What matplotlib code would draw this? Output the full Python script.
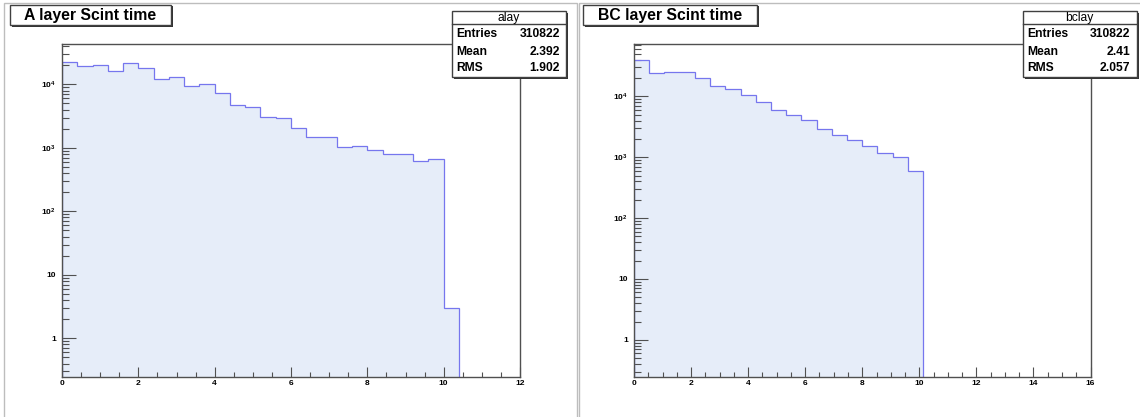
import numpy as np
import matplotlib
matplotlib.use('Agg')
import matplotlib.pyplot as plt
from matplotlib.patches import Rectangle
from matplotlib.lines import Line2D
from matplotlib.ticker import LogLocator, MultipleLocator, FuncFormatter, NullFormatter

# ---------------- data ----------------
alay_counts = [22800, 19200, 20200, 16400, 22000, 18300, 12300, 13000, 9500, 10000,
               7400, 4770, 4330, 3050, 2940, 2050, 1470, 1470, 1040, 1075,
               930, 795, 805, 623, 662, 3]
alay_nbins, alay_xmin, alay_xmax = 30, 0.0, 12.0

bclay_counts = [39200, 23900, 25200, 25200, 19800, 15000, 13200, 10650, 7960, 5950,
                4860, 4020, 2860, 2360, 1950, 1540, 1190, 1000, 603]
bclay_nbins, bclay_xmin, bclay_xmax = 30, 0.0, 16.0

titles = ["A layer Scint time", "BC layer Scint time"]
hist_names = ["alay", "bclay"]
stat_labels = ["Entries", "Mean", "RMS"]
alay_stats = ["310822", "2.392", "1.902"]
bclay_stats = ["310822", "2.41", "2.057"]

# ---------------- style ----------------
W, H, DPI = 1140, 417, 100
FONT = 'Liberation Sans'
plt.rcParams['font.family'] = [FONT, 'DejaVu Sans']
FRAME = '#505050'
FILL = '#e6edf9'
LINE = '#7676ee'

fig = plt.figure(figsize=(W / DPI, H / DPI), dpi=DPI)
fig.patch.set_facecolor('white')


def fx(x):
    return x / W


def fy(y):
    return 1 - y / H


def rect(x0, y0, x1, y1, **kw):
    r = Rectangle((fx(x0), fy(y1)), fx(x1) - fx(x0), fy(y0) - fy(y1),
                  transform=fig.transFigure, **kw)
    fig.add_artist(r)
    return r


def hline(x0, x1, y, **kw):
    fig.add_artist(Line2D([fx(x0), fx(x1)], [fy(y), fy(y)], transform=fig.transFigure, **kw))


# pad borders
rect(4, 3, 576.5, 420, facecolor='none', edgecolor='#bdbdbd', linewidth=1.0, zorder=0)
rect(578.5, 3, 1142, 420, facecolor='none', edgecolor='#bdbdbd', linewidth=1.0, zorder=0)


def ylab(v, pos):
    if v <= 0:
        return ''
    e = int(round(np.log10(v)))
    if abs(np.log10(v) - e) > 1e-6:
        return ''
    if e == 0:
        return '1'
    if e == 1:
        return '10'
    if e < 0:
        return ''
    return r'$\mathregular{10^{%d}}$' % e


def draw_hist(rect_px, counts, nbins, xmin, xmax, ylim, xlim):
    x0, y0, x1, y1 = rect_px
    ax = fig.add_axes([fx(x0), fy(y1), fx(x1) - fx(x0), fy(y0) - fy(y1)])
    edges = np.linspace(xmin, xmax, nbins + 1)[:len(counts) + 1]
    ax.stairs(counts, edges, baseline=1e-3, fill=True, facecolor=FILL,
              edgecolor='none', zorder=1)
    ax.stairs(counts, edges, baseline=1e-3, fill=False, color=LINE,
              linewidth=0.9, zorder=2)
    ax.set_yscale('log')
    ax.set_xlim(*xlim)
    ax.set_ylim(*ylim)
    for s in ax.spines.values():
        s.set_color(FRAME)
        s.set_linewidth(1.0)
    ax.xaxis.set_major_locator(MultipleLocator(2))
    ax.xaxis.set_minor_locator(MultipleLocator(0.5))
    ax.yaxis.set_major_locator(LogLocator(base=10, numticks=12))
    ax.yaxis.set_minor_locator(LogLocator(base=10, subs=np.arange(2, 10) * 1.0, numticks=30))
    ax.yaxis.set_major_formatter(FuncFormatter(ylab))
    ax.yaxis.set_minor_formatter(NullFormatter())
    ax.xaxis.set_major_formatter(FuncFormatter(lambda v, p: '%d' % round(v)))
    ax.tick_params(axis='x', which='major', direction='in', length=7.2, width=0.8,
                   color=FRAME, pad=2.5, labelsize=6)
    ax.tick_params(axis='x', which='minor', direction='in', length=3.6, width=0.8, color=FRAME)
    ax.tick_params(axis='y', which='major', direction='in', length=9.9, width=0.8,
                   color=FRAME, pad=4.5, labelsize=6)
    ax.tick_params(axis='y', which='minor', direction='in', length=5.0, width=0.8, color=FRAME)
    for lab in ax.get_xticklabels() + ax.get_yticklabels():
        lab.set_fontweight('bold')
    return ax


def title_box(x0, y0, x1, y1, text):
    rect(x0 + 2, y0 + 2, x1 + 2, y1 + 2, facecolor='#333333', edgecolor='none', zorder=9)
    rect(x0, y0, x1, y1, facecolor='white', edgecolor='#404040', linewidth=1.0, zorder=10)
    fig.text(fx((x0 + x1) / 2), fy((y0 + y1) / 2 + 0.5), text, ha='center', va='center',
             fontsize=11.3, fontweight='bold', zorder=11)


def stats_box(x0, y0, x1, y1, hdr, name, values):
    rect(x0 + 2, y0 + 2, x1 + 2, y1 + 2, facecolor='#333333', edgecolor='none', zorder=9)
    rect(x0, y0, x1, y1, facecolor='white', edgecolor='#404040', linewidth=1.0, zorder=10)
    hline(x0, x1, hdr, color='#404040', linewidth=1.0, zorder=11)
    fig.text(fx((x0 + x1) / 2), fy((y0 + hdr) / 2 + 0.5), name, ha='center', va='center',
             fontsize=8.7, zorder=12)
    rows_y = [34.3, 51.7, 68.3]
    for lab, val, yy in zip(stat_labels, values, rows_y):
        fig.text(fx(x0 + 5), fy(yy), lab, ha='left', va='center', fontsize=8.7,
                 fontweight='bold', zorder=12)
        fig.text(fx(x1 - 6), fy(yy), val, ha='right', va='center', fontsize=8.7,
                 fontweight='bold', zorder=12)


draw_hist((62, 43.5, 520, 376.5), alay_counts, alay_nbins, alay_xmin, alay_xmax,
          (0.25, 44000), (alay_xmin, alay_xmax))
draw_hist((634, 43.5, 1090.5, 376.5), bclay_counts, bclay_nbins, bclay_xmin, bclay_xmax,
          (0.25, 74000), (bclay_xmin, bclay_xmax))

title_box(9.5, 4.5, 170.5, 25, titles[0])
title_box(583, 4.5, 757, 25, titles[1])

stats_box(451.5, 10.5, 566, 77, 24, hist_names[0], alay_stats)
stats_box(1022.5, 10.5, 1136.5, 77, 24, hist_names[1], bclay_stats)

fig.savefig('out.png', dpi=DPI, facecolor='white')
